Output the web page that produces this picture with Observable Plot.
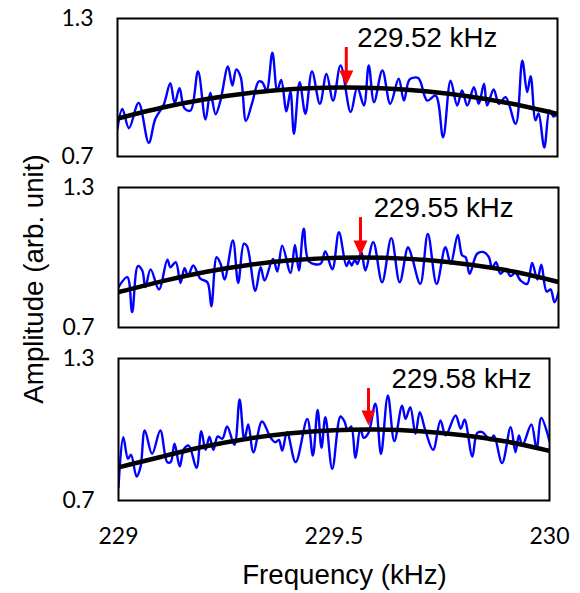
<!DOCTYPE html>
<html><head><meta charset="utf-8">
<script src="https://cdn.jsdelivr.net/npm/d3@7"></script>
<script src="https://cdn.jsdelivr.net/npm/@observablehq/plot@0.6"></script>
<style>
body{margin:0;background:#fff;}
#chart{position:relative;width:580px;height:593px;background:#fff;}
#chart svg{position:absolute;left:0;top:0;}
</style></head><body><div id="chart"></div>
<script>
// ---- data ----
const freq1 = [229.000,229.011,229.026,229.048,229.071,229.086,229.105,229.120,229.130,229.141,229.152,229.166,229.183,229.200,229.211,229.223,229.234,229.251,229.261,229.270,229.280,229.292,229.306,229.321,229.329,229.339,229.352,229.363,229.372,229.384,229.393,229.401,229.414,229.427,229.442,229.460,229.475,229.490,229.507,229.530,229.545,229.560,229.571,229.583,229.602,229.620,229.639,229.651,229.664,229.683,229.689,229.704,229.723,229.740,229.757,229.772,229.783,229.795,229.810,229.821,229.833,229.840,229.855,229.867,229.882,229.905,229.920,229.931,229.939,229.950,229.957,229.970,229.982,229.991,230.000];
const amp1 = [0.820,0.907,0.823,0.933,0.760,0.864,0.925,1.019,0.933,0.997,0.910,0.900,1.070,0.861,0.977,0.884,0.943,1.091,1.009,1.078,1.045,0.855,0.933,1.026,1.023,0.987,1.151,0.987,1.033,0.896,0.983,0.799,1.023,0.886,1.070,0.929,1.059,0.943,1.096,0.893,1.001,0.922,1.096,0.936,1.074,0.929,1.038,0.943,1.035,1.042,1.023,0.943,0.965,0.784,1.030,0.922,0.987,0.922,1.001,0.929,1.016,0.922,0.991,0.929,0.958,0.842,1.117,0.980,1.049,0.857,0.887,0.739,0.900,0.874,0.887];

const freq2 = [229.000,229.020,229.031,229.044,229.054,229.061,229.073,229.092,229.111,229.118,229.130,229.141,229.150,229.158,229.170,229.186,229.202,229.211,229.223,229.232,229.241,229.260,229.272,229.285,229.292,229.311,229.323,229.332,229.351,229.361,229.372,229.391,229.401,229.410,229.421,229.433,229.459,229.470,229.486,229.501,229.518,229.524,229.530,229.537,229.543,229.552,229.561,229.579,229.599,229.620,229.639,229.658,229.667,229.686,229.703,229.723,229.743,229.755,229.771,229.781,229.789,229.798,229.815,229.830,229.842,229.849,229.858,229.868,229.880,229.891,229.902,229.914,229.929,229.940,229.952,229.961,229.973,229.982,229.991,230.000];
const amp2 = [0.873,0.916,0.766,0.963,0.944,0.873,0.949,0.863,0.991,0.958,0.980,0.891,0.954,0.923,0.966,0.909,0.894,0.791,1.001,0.973,0.906,1.073,0.891,1.059,1.049,0.857,0.958,0.901,0.994,0.940,1.051,0.934,1.054,0.944,1.123,0.983,0.973,1.026,0.949,1.108,0.963,0.985,0.966,0.990,0.972,1.023,0.944,1.066,0.894,1.083,0.894,1.044,1.001,0.887,1.101,0.887,1.044,0.973,1.097,1.009,1.001,0.930,1.016,1.023,1.001,0.954,0.980,0.930,0.951,0.920,0.934,0.901,0.887,0.977,0.906,0.969,0.854,0.863,0.808,0.851];

const freq3 = [229.000,229.011,229.022,229.029,229.042,229.051,229.061,229.078,229.097,229.113,229.121,229.130,229.142,229.152,229.163,229.181,229.192,229.202,229.211,229.220,229.230,229.241,229.252,229.269,229.281,229.292,229.301,229.313,229.333,229.353,229.364,229.372,229.380,229.391,229.411,229.438,229.451,229.462,229.471,229.480,229.496,229.515,229.524,229.532,229.540,229.550,229.561,229.569,229.580,229.596,229.609,229.625,229.640,229.658,229.666,229.677,229.689,229.699,229.712,229.730,229.747,229.759,229.782,229.794,229.803,229.821,229.832,229.844,229.863,229.871,229.890,229.910,229.921,229.929,229.937,229.958,229.970,229.981,230.000];
const amp3 = [0.756,0.968,0.876,0.894,0.801,0.841,0.996,0.897,0.996,0.862,0.862,0.940,0.844,0.918,0.932,0.838,0.993,0.914,0.970,0.914,0.970,0.961,1.013,0.935,1.127,0.956,1.021,0.904,1.034,0.965,0.946,0.956,0.911,0.989,0.862,1.045,0.890,1.083,0.923,1.052,0.834,1.055,1.035,0.995,1.013,0.880,1.003,0.965,0.986,1.109,0.897,1.144,0.951,1.101,1.045,1.094,0.982,1.073,0.996,0.914,1.038,0.975,1.059,1.003,1.041,0.886,0.985,0.989,0.954,0.975,0.858,1.010,0.904,0.975,0.932,1.021,0.918,1.049,0.951];

const fitFreq = [229.0,229.1,229.2,229.3,229.4,229.5,229.6,229.7,229.8,229.9,230.0];
const fit1 = [0.865,0.912,0.949,0.976,0.993,1.000,0.997,0.984,0.961,0.928,0.885];
const fit2 = [0.852,0.899,0.939,0.969,0.989,0.999,0.999,0.989,0.969,0.939,0.895];
const fit3 = [0.840,0.885,0.928,0.961,0.984,0.997,1.000,0.993,0.976,0.949,0.910];

const peakFreqs = [229.52, 229.55, 229.58];
const peakLabels = ["229.52 kHz", "229.55 kHz", "229.58 kHz"];
const arrowTop = [1.174, 1.171, 1.173];
const arrowTip = [1.009, 1.009, 1.017];
const labelFreq = [229.704, 229.739, 229.796];
const labelAmp = [1.213, 1.211, 1.213];

const yTicks = [0.7, 1.3];
const yTickLabels = ["0.7", "1.3"];
const xTicks = [229, 229.5, 230];
const xTickLabels = ["229", "229.5", "230"];
const xTitle = "Frequency (kHz)";
const yTitle = "Amplitude (arb. unit)";

// ---- layout ----
const W = 580, H = 593;
const boxes = [
  {top: 18,  bottom: 156, left: 117, right: 557},
  {top: 187, bottom: 327, left: 118, right: 558},
  {top: 358, bottom: 500, left: 118, right: 549}
];
const series = [[freq1, amp1, fit1], [freq2, amp2, fit2], [freq3, amp3, fit3]];

const downHead = {
  draw(ctx) { ctx.moveTo(-7, -15); ctx.lineTo(7, -15); ctx.lineTo(0, 0); ctx.closePath(); }
};

const tickFont = "Lato, 'Open Sans', sans-serif";
const textFont = "'Liberation Sans', Arial, sans-serif";
const textSize = 27.7;
const chart = document.getElementById("chart");

series.forEach(([fr, am, fit], i) => {
  const b = boxes[i];
  const last = i === 2;
  const marks = [
    Plot.line(fr, {x: fr, y: am, curve: "catmull-rom", stroke: "#0000ff", strokeWidth: 2.4, clip: true}),
    Plot.line(fitFreq, {x: fitFreq, y: fit, curve: "natural", stroke: "#000", strokeWidth: 4.5, clip: true}),
    Plot.frame({stroke: "#000", strokeWidth: 2}),
    Plot.axisY(yTicks, {tickSize: 0, tickPadding: 24, fontSize: 23, fontFamily: tickFont, fill: "#000",
      tickFormat: d => yTickLabels[yTicks.indexOf(d)], label: null}),
    Plot.ruleX([peakFreqs[i]], {x: d => d, y1: arrowTop[i], y2: arrowTip[i], stroke: "#ff0000", strokeWidth: 3, insetBottom: 13}),
    Plot.dot([peakFreqs[i]], {x: d => d, y: arrowTip[i], symbol: downHead, fill: "#ff0000", stroke: "none", r: 5}),
    Plot.text([peakLabels[i]], {x: labelFreq[i], y: labelAmp[i], text: d => d, fontSize: textSize, fontFamily: textFont, fill: "#000"})
  ];
  if (i === 1) {
    marks.push(Plot.text([yTitle], {frameAnchor: "left", textAnchor: "middle", lineAnchor: "middle", text: d => d,
      rotate: -90, dx: -84, dy: 21.5, fontSize: textSize, fontFamily: textFont, fill: "#000"}));
  }
  if (last) {
    marks.push(Plot.axisX(xTicks, {tickSize: 0, tickPadding: 27, fontSize: 23, fontFamily: tickFont, fill: "#000",
      tickFormat: d => xTickLabels[xTicks.indexOf(d)], label: null}));
    marks.push(Plot.text([xTitle], {frameAnchor: "bottom", textAnchor: "middle", text: d => d, dx: 10.5, dy: 83, lineAnchor: "bottom",
      fontSize: textSize, fontFamily: textFont, fill: "#000"}));
  }
  const svg = Plot.plot({
    width: W, height: H,
    marginTop: b.top, marginBottom: H - b.bottom, marginLeft: b.left, marginRight: W - b.right,
    style: {background: "transparent", overflow: "visible"},
    x: {domain: [229, 230], axis: null},
    y: {domain: [0.7, 1.3], axis: null},
    marks
  });
  chart.appendChild(svg);
});
</script>
</body></html>
